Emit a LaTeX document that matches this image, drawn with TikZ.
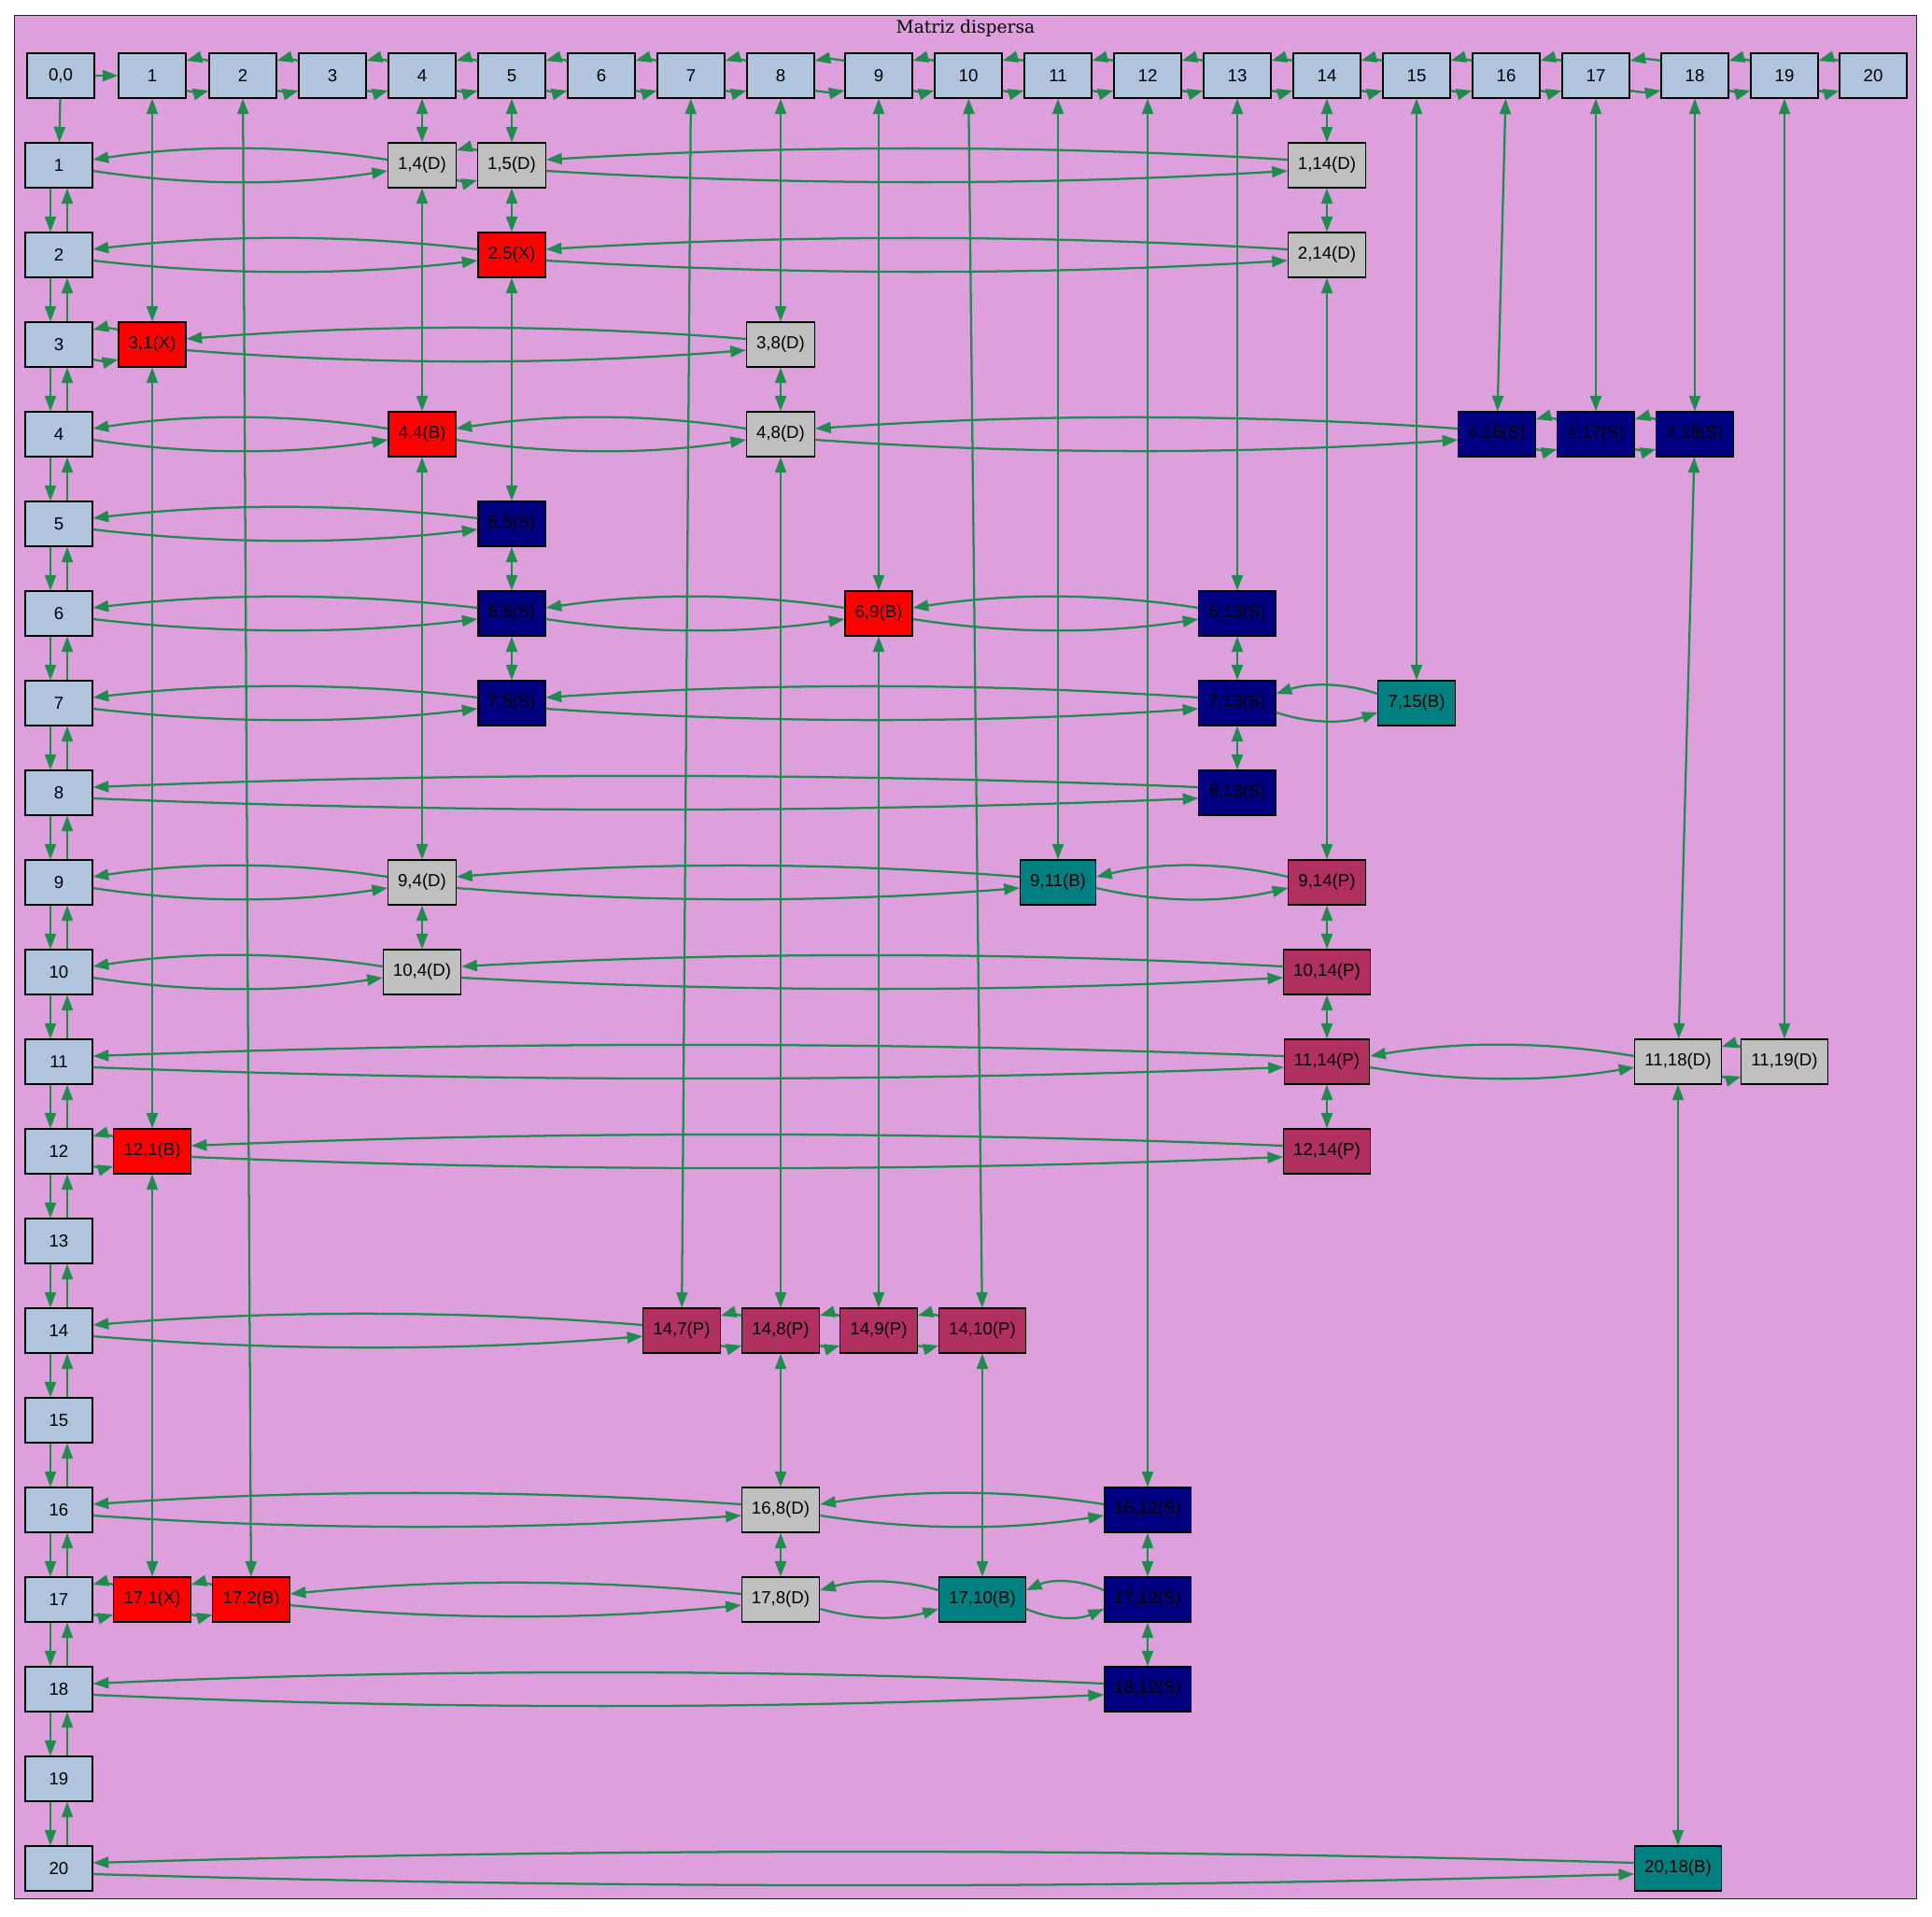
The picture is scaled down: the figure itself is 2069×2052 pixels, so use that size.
\documentclass[tikz,border=0pt]{standalone}
\usepackage{fontspec}
\setmainfont{Liberation Serif}
\newfontfamily\nodefont{Liberation Sans}
\newfontfamily\titlefont{DejaVu Serif}
\usetikzlibrary{arrows.meta,calc}
\definecolor{lsb}{HTML}{B0C4DE}
\definecolor{gryc}{HTML}{C0C0C0}
\definecolor{navyc}{HTML}{000080}
\definecolor{tealc}{HTML}{008080}
\definecolor{maroonc}{HTML}{B03060}
\definecolor{plumc}{HTML}{DDA0DD}
\definecolor{edgec}{HTML}{208A4F}
\newcommand\harcX[4]{%
 \draw[ed] ($(#1.east)+(0pt,-#3)$) .. controls ($(#1.east)!0.333!(#2.west)+(0pt,-#4)$) and ($(#1.east)!0.667!(#2.west)+(0pt,-#4)$) .. ($(#2.west)+(0pt,-#3)$);
 \draw[ed] ($(#2.west)+(0pt,#3)$) .. controls ($(#1.east)!0.667!(#2.west)+(0pt,#4)$) and ($(#1.east)!0.333!(#2.west)+(0pt,#4)$) .. ($(#1.east)+(0pt,#3)$);
}
\newcommand\pairS[2]{\harcX{#1}{#2}{12pt}{13.5pt}}
\newcommand\pairM[2]{\harcX{#1}{#2}{7.5pt}{16.5pt}}
\newcommand\pairL[2]{\harcX{#1}{#2}{4.5pt}{16.5pt}}
\newcommand\vlink[2]{\draw[bd] (#1) -- (#2);}
\begin{document}
\begin{tikzpicture}[x=0.75pt,y=-0.75pt,
  nd/.style={draw=black, line width=0.8pt, rectangle, minimum width=54pt, minimum height=36pt,
    inner xsep=7.92pt, inner ysep=0pt, font=\nodefont\fontsize{14}{16}\selectfont},
  hd/.style={nd, fill=lsb},
  gr/.style={nd, fill=gryc},
  rd/.style={nd, fill=red},
  nv/.style={nd, fill=navyc},
  tl/.style={nd, fill=tealc},
  mr/.style={nd, fill=maroonc},
  ed/.style={draw=edgec, line width=1.7pt, -{Triangle[length=12.5pt,width=9pt]}},
  bd/.style={draw=edgec, line width=1.7pt, {Triangle[length=12.5pt,width=9pt]}-{Triangle[length=12.5pt,width=9pt]}}]
\useasboundingbox (0,0) rectangle (2069,2052);
\fill[white] (0,0) rectangle (2069,2052);
\draw[fill=plumc, draw=black!85, line width=0.75pt] (15.6,16) rectangle (2052,2033);
\node[font=\titlefont\fontsize{14}{16}\selectfont] (title) at (1034,30) {Matriz dispersa};
% header row
\node[hd] (h0) at (65,81) {0,0};
\foreach \i/\x in {1/163,2/260,3/356,4/452,5/548,6/644,7/740,8/836,9/941,10/1037,11/1133,12/1229,13/1325,14/1421,15/1517,16/1613,17/1709,18/1815,19/1911,20/2006}
  \node[hd] (h\i) at (\x,81) {\i};
% row headers
\foreach \i in {1,...,20}
  \node[hd] (r\i) at (63,{177+96*(\i-1)}) {\i};
% interior nodes
\node[gr] (n1x4) at (452,177) {1,4(D)};
\node[gr] (n1x5) at (548,177) {1,5(D)};
\node[gr] (n1x14) at (1421,177) {1,14(D)};
\node[rd] (n2x5) at (548,273) {2,5(X)};
\node[gr] (n2x14) at (1421,273) {2,14(D)};
\node[rd] (n3x1) at (163,369) {3,1(X)};
\node[gr] (n3x8) at (836,369) {3,8(D)};
\node[rd] (n4x4) at (452,465) {4,4(B)};
\node[gr] (n4x8) at (836,465) {4,8(D)};
\node[nv] (n4x16) at (1603,465) {4,16(S)};
\node[nv] (n4x17) at (1709,465) {4,17(S)};
\node[nv] (n4x18) at (1815,465) {4,18(S)};
\node[nv] (n5x5) at (548,561) {5,5(S)};
\node[nv] (n6x5) at (548,657) {6,5(S)};
\node[rd] (n6x9) at (941,657) {6,9(B)};
\node[nv] (n6x13) at (1325,657) {6,13(S)};
\node[nv] (n7x5) at (548,753) {7,5(S)};
\node[nv] (n7x13) at (1325,753) {7,13(S)};
\node[tl] (n7x15) at (1517,753) {7,15(B)};
\node[nv] (n8x13) at (1325,849) {8,13(S)};
\node[gr] (n9x4) at (452,945) {9,4(D)};
\node[tl] (n9x11) at (1133,945) {9,11(B)};
\node[mr] (n9x14) at (1421,945) {9,14(P)};
\node[gr] (n10x4) at (452,1041) {10,4(D)};
\node[mr] (n10x14) at (1421,1041) {10,14(P)};
\node[mr] (n11x14) at (1421,1137) {11,14(P)};
\node[gr] (n11x18) at (1797,1137) {11,18(D)};
\node[gr] (n11x19) at (1911,1137) {11,19(D)};
\node[rd] (n12x1) at (163,1233) {12,1(B)};
\node[mr] (n12x14) at (1421,1233) {12,14(P)};
\node[mr] (n14x7) at (730,1425) {14,7(P)};
\node[mr] (n14x8) at (836,1425) {14,8(P)};
\node[mr] (n14x9) at (941,1425) {14,9(P)};
\node[mr] (n14x10) at (1052,1425) {14,10(P)};
\node[gr] (n16x8) at (836,1617) {16,8(D)};
\node[nv] (n16x12) at (1229,1617) {16,12(S)};
\node[rd] (n17x1) at (163,1713) {17,1(X)};
\node[rd] (n17x2) at (269,1713) {17,2(B)};
\node[gr] (n17x8) at (836,1713) {17,8(D)};
\node[tl] (n17x10) at (1052,1713) {17,10(B)};
\node[nv] (n17x12) at (1229,1713) {17,12(S)};
\node[nv] (n18x12) at (1229,1809) {18,12(S)};
\node[tl] (n20x18) at (1797,2001) {20,18(B)};
% header row links
\draw[ed] (h0) -- (h1);
\draw[ed] (h0) -- (r1);
\foreach \i [evaluate=\i as \j using int(\i+1)] in {1,...,19} {\pairS{h\i}{h\j}}
% row header links
\foreach \i [evaluate=\i as \j using int(\i+1)] in {1,...,19} {
  \draw[ed] ([xshift=-6.75pt]r\i.south) -- ([xshift=-6.75pt]r\j.north);
  \draw[ed] ([xshift=6.75pt]r\j.north) -- ([xshift=6.75pt]r\i.south);
}
% rows
\pairL{r1}{n1x4} \pairS{n1x4}{n1x5} \pairL{n1x5}{n1x14}
\pairL{r2}{n2x5} \pairL{n2x5}{n2x14}
\pairS{r3}{n3x1} \pairL{n3x1}{n3x8}
\pairL{r4}{n4x4} \pairL{n4x4}{n4x8} \pairL{n4x8}{n4x16} \pairS{n4x16}{n4x17} \pairS{n4x17}{n4x18}
\pairL{r5}{n5x5}
\pairL{r6}{n6x5} \pairL{n6x5}{n6x9} \pairL{n6x9}{n6x13}
\pairL{r7}{n7x5} \pairL{n7x5}{n7x13} \pairM{n7x13}{n7x15}
\pairL{r8}{n8x13}
\pairL{r9}{n9x4} \pairL{n9x4}{n9x11} \pairL{n9x11}{n9x14}
\pairL{r10}{n10x4} \pairL{n10x4}{n10x14}
\pairL{r11}{n11x14} \pairL{n11x14}{n11x18} \pairS{n11x18}{n11x19}
\pairS{r12}{n12x1} \pairL{n12x1}{n12x14}
\pairL{r14}{n14x7} \pairS{n14x7}{n14x8} \pairS{n14x8}{n14x9} \pairS{n14x9}{n14x10}
\pairL{r16}{n16x8} \pairL{n16x8}{n16x12}
\pairS{r17}{n17x1} \pairS{n17x1}{n17x2} \pairL{n17x2}{n17x8} \pairM{n17x8}{n17x10} \pairM{n17x10}{n17x12}
\pairL{r18}{n18x12}
\pairL{r20}{n20x18}
% columns
\vlink{h1}{n3x1} \vlink{n3x1}{n12x1} \vlink{n12x1}{n17x1}
\vlink{h2}{n17x2}
\vlink{h4}{n1x4} \vlink{n1x4}{n4x4} \vlink{n4x4}{n9x4} \vlink{n9x4}{n10x4}
\vlink{h5}{n1x5} \vlink{n1x5}{n2x5} \vlink{n2x5}{n5x5} \vlink{n5x5}{n6x5} \vlink{n6x5}{n7x5}
\vlink{h7}{n14x7}
\vlink{h8}{n3x8} \vlink{n3x8}{n4x8} \vlink{n4x8}{n14x8} \vlink{n14x8}{n16x8} \vlink{n16x8}{n17x8}
\vlink{h9}{n6x9} \vlink{n6x9}{n14x9}
\vlink{h10}{n14x10} \vlink{n14x10}{n17x10}
\vlink{h11}{n9x11}
\vlink{h12}{n16x12} \vlink{n16x12}{n17x12} \vlink{n17x12}{n18x12}
\vlink{h13}{n6x13} \vlink{n6x13}{n7x13} \vlink{n7x13}{n8x13}
\vlink{h14}{n1x14} \vlink{n1x14}{n2x14} \vlink{n2x14}{n9x14} \vlink{n9x14}{n10x14} \vlink{n10x14}{n11x14} \vlink{n11x14}{n12x14}
\vlink{h15}{n7x15}
\vlink{h16}{n4x16}
\vlink{h17}{n4x17}
\vlink{h18}{n4x18} \vlink{n4x18}{n11x18} \vlink{n11x18}{n20x18}
\vlink{h19}{n11x19}
\end{tikzpicture}
\end{document}
